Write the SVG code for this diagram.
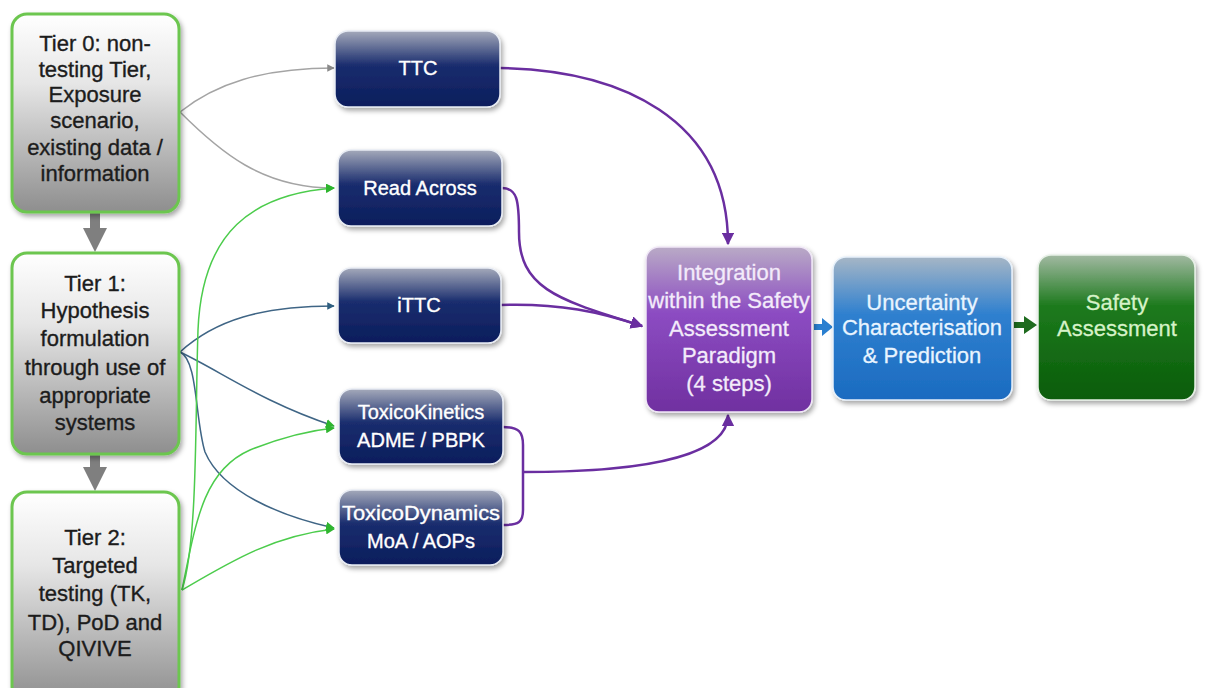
<svg xmlns="http://www.w3.org/2000/svg" width="1206" height="688" viewBox="0 0 1206 688">
  <defs>
    <linearGradient id="gTier" x1="0" y1="0" x2="0" y2="1">
      <stop offset="0" stop-color="#ffffff"/>
      <stop offset="0.35" stop-color="#e6e6e6"/>
      <stop offset="1" stop-color="#8e8e8e"/>
    </linearGradient>
    <linearGradient id="gNavy" x1="0" y1="0" x2="0" y2="1">
      <stop offset="0" stop-color="#a4a9ba"/>
      <stop offset="0.45" stop-color="#1a2d6e"/>
      <stop offset="1" stop-color="#0b1d5c"/>
    </linearGradient>
    <linearGradient id="gPurple" x1="0" y1="0" x2="0" y2="1">
      <stop offset="0" stop-color="#b9aac6"/>
      <stop offset="0.4" stop-color="#8c4cc2"/>
      <stop offset="1" stop-color="#7030a0"/>
    </linearGradient>
    <linearGradient id="gBlue" x1="0" y1="0" x2="0" y2="1">
      <stop offset="0" stop-color="#a6b6c6"/>
      <stop offset="0.4" stop-color="#2f80cf"/>
      <stop offset="1" stop-color="#1b6bc0"/>
    </linearGradient>
    <linearGradient id="gGreen" x1="0" y1="0" x2="0" y2="1">
      <stop offset="0" stop-color="#a2b9a2"/>
      <stop offset="0.35" stop-color="#1d7a1d"/>
      <stop offset="1" stop-color="#0a5c0a"/>
    </linearGradient>
    <filter id="shadow" x="-10%" y="-10%" width="125%" height="125%">
      <feDropShadow dx="2" dy="3" stdDeviation="2.5" flood-color="#000" flood-opacity="0.35"/>
    </filter>
    <marker id="mGray" viewBox="0 0 10 10" refX="9" refY="5" markerWidth="5" markerHeight="5" orient="auto" markerUnits="strokeWidth">
      <path d="M0,0 L10,5 L0,10 z" fill="#8a8a8a"/>
    </marker>
    <marker id="mGreen" viewBox="0 0 10 10" refX="9" refY="5" markerWidth="6" markerHeight="6" orient="auto" markerUnits="strokeWidth">
      <path d="M0,0 L10,5 L0,10 z" fill="#2fb52f"/>
    </marker>
    <marker id="mSteel" viewBox="0 0 10 10" refX="9" refY="5" markerWidth="5" markerHeight="5" orient="auto" markerUnits="strokeWidth">
      <path d="M0,0 L10,5 L0,10 z" fill="#2f5f80"/>
    </marker>
    <marker id="mPurple" viewBox="0 0 10 10" refX="9" refY="5" markerWidth="5" markerHeight="5" orient="auto" markerUnits="strokeWidth">
      <path d="M0,0 L10,5 L0,10 z" fill="#6a2ea0"/>
    </marker>
  </defs>
  <style>
    .tier { fill: url(#gTier); stroke: #6cc64f; stroke-width: 3; filter: url(#shadow); }
    .navy { fill: url(#gNavy); stroke: #e8ecf4; stroke-width: 1.5; filter: url(#shadow); }
    .tierTxt { font-family: "Liberation Sans", Arial, sans-serif; font-size: 22px; fill: #1c1c1c; stroke: #1c1c1c; stroke-width: 0.35; text-anchor: middle; }
    .navyTxt { font-family: "Liberation Sans", Arial, sans-serif; font-size: 20px; fill: #ffffff; stroke: #ffffff; stroke-width: 0.35; text-anchor: middle; }
    .bigTxt { font-family: "Liberation Sans", Arial, sans-serif; font-size: 22px; stroke-width: 0.3; text-anchor: middle; }
    .c-gray { fill: none; stroke: #a4a4a4; stroke-width: 1.5; }
    .c-green { fill: none; stroke: #4ccc4c; stroke-width: 1.5; }
    .c-steel { fill: none; stroke: #3f6585; stroke-width: 1.5; }
    .c-purple { fill: none; stroke: #6a2ea0; stroke-width: 2.5; }
  </style>

  <rect width="1206" height="688" fill="#ffffff"/>

  <!-- connectors -->
  <g id="connectors">
    <!-- Tier 0 outputs -->
    <path class="c-gray" d="M180,112 C215,84 262,68 334,68" marker-end="url(#mGray)"/>
    <path class="c-gray" d="M180,112 C220,152 262,188 334,188" marker-end="url(#mGreen)"/>
    <!-- Tier 1 outputs -->
    <path class="c-steel" d="M180,352 C215,320 262,306 334,306" marker-end="url(#mSteel)"/>
    <path class="c-steel" d="M180,352 C222,372 262,402 334,426" marker-end="url(#mGreen)"/>
    <path class="c-steel" d="M180,352 C198,360 195,420 205,452 C222,492 280,516 334,528" marker-end="url(#mGreen)"/>
    <!-- Tier 2 outputs -->
    <path class="c-green" d="M182,590 C198,540 195,420 198,330 C202,232 252,194 334,188" marker-end="url(#mGreen)"/>
    <path class="c-green" d="M182,590 C196,520 204,470 250,450 C280,438 305,431 334,428" marker-end="url(#mGreen)"/>
    <path class="c-green" d="M182,590 C230,562 272,536 334,529" marker-end="url(#mGreen)"/>
    <!-- into integration -->
    <path class="c-purple" d="M500,68 C620,70 728,118 728,244" marker-end="url(#mPurple)"/>
    <path class="c-purple" d="M502,188 C517,188 519,200 519,232 C519,290 560,300 642,326" marker-end="url(#mPurple)"/>
    <path class="c-purple" d="M500,305 C560,303 600,312 642,326" marker-end="url(#mPurple)"/>
    <path class="c-purple" d="M503,427 C519,427 523,432 523,445 L523,510 C523,522 519,525 503,525"/>
    <path class="c-purple" d="M523,472 C620,472 728,462 728,415" marker-end="url(#mPurple)"/>
    <!-- tier flow arrows -->
    <path d="M90,212 H100 V228 H107 L95,252 L83,228 H90 Z" fill="#7f7f7f"/>
    <path d="M90,455 H100 V467 H107 L95,491 L83,467 H90 Z" fill="#7f7f7f"/>
    <!-- chain arrows -->
    <path d="M814,324 H822 V318 L833,327 L822,336 V330 H814 Z" fill="#2a7fd0"/>
    <path d="M1014,322 H1024 V316 L1037,325 L1024,334 V328 H1014 Z" fill="#1e6b1e"/>
  </g>

  <!-- tiers -->
  <g id="tier0">
    <rect class="tier" x="12" y="14" width="167" height="198" rx="15"/>
    <text class="tierTxt" x="95" y="51">Tier 0: non-</text>
    <text class="tierTxt" x="95" y="77">testing Tier,</text>
    <text class="tierTxt" x="95" y="102">Exposure</text>
    <text class="tierTxt" x="95" y="128">scenario,</text>
    <text class="tierTxt" x="95" y="155">existing data /</text>
    <text class="tierTxt" x="95" y="181">information</text>
  </g>
  <g id="tier1">
    <rect class="tier" x="12" y="253" width="167" height="201" rx="15"/>
    <text class="tierTxt" x="95" y="291">Tier 1:</text>
    <text class="tierTxt" x="95" y="318">Hypothesis</text>
    <text class="tierTxt" x="95" y="346">formulation</text>
    <text class="tierTxt" x="95" y="375">through use of</text>
    <text class="tierTxt" x="95" y="403">appropriate</text>
    <text class="tierTxt" x="95" y="430">systems</text>
  </g>
  <g id="tier2">
    <rect class="tier" x="12" y="492" width="167" height="210" rx="15"/>
    <text class="tierTxt" x="95" y="545">Tier 2:</text>
    <text class="tierTxt" x="95" y="573">Targeted</text>
    <text class="tierTxt" x="95" y="601">testing (TK,</text>
    <text class="tierTxt" x="95" y="630">TD), PoD and</text>
    <text class="tierTxt" x="95" y="656">QIVIVE</text>
  </g>

  <!-- approaches -->
  <g id="ttc">
    <rect class="navy" x="335" y="31" width="165" height="76" rx="13"/>
    <text class="navyTxt" x="418" y="75">TTC</text>
  </g>
  <g id="read-across">
    <rect class="navy" x="338" y="150" width="164" height="76" rx="13"/>
    <text class="navyTxt" x="420" y="195">Read Across</text>
  </g>
  <g id="ittc">
    <rect class="navy" x="338" y="268" width="163" height="75" rx="13"/>
    <text class="navyTxt" x="419" y="312">iTTC</text>
  </g>
  <g id="toxicokinetics">
    <rect class="navy" x="339" y="389" width="164" height="75" rx="13"/>
    <text class="navyTxt" x="421" y="419">ToxicoKinetics</text>
    <text class="navyTxt" x="421" y="447">ADME / PBPK</text>
  </g>
  <g id="toxicodynamics">
    <rect class="navy" x="339" y="490" width="164" height="75" rx="13"/>
    <text class="navyTxt" x="421" y="520" textLength="158" lengthAdjust="spacingAndGlyphs">ToxicoDynamics</text>
    <text class="navyTxt" x="421" y="548">MoA / AOPs</text>
  </g>

  <!-- assessment chain -->
  <g id="integration">
    <rect x="646" y="247" width="166" height="165" rx="13" fill="url(#gPurple)" stroke="#efe6f6" stroke-width="1.5" filter="url(#shadow)"/>
    <g fill="#f3ebfa" stroke="#f3ebfa">
      <text class="bigTxt" x="729" y="280">Integration</text>
      <text class="bigTxt" x="729" y="308">within the Safety</text>
      <text class="bigTxt" x="729" y="336">Assessment</text>
      <text class="bigTxt" x="729" y="363">Paradigm</text>
      <text class="bigTxt" x="729" y="391">(4 steps)</text>
    </g>
  </g>
  <g id="uncertainty">
    <rect x="833" y="257" width="179" height="143" rx="13" fill="url(#gBlue)" stroke="#e6f0fa" stroke-width="1.5" filter="url(#shadow)"/>
    <g fill="#e8f4ff" stroke="#e8f4ff">
      <text class="bigTxt" x="922" y="310">Uncertainty</text>
      <text class="bigTxt" x="922" y="335">Characterisation</text>
      <text class="bigTxt" x="922" y="363">&amp; Prediction</text>
    </g>
  </g>
  <g id="safety">
    <rect x="1038" y="255" width="157" height="145" rx="13" fill="url(#gGreen)" stroke="#e6f0e6" stroke-width="1.5" filter="url(#shadow)"/>
    <g fill="#d6f2c8" stroke="#d6f2c8">
      <text class="bigTxt" x="1117" y="310">Safety</text>
      <text class="bigTxt" x="1117" y="336">Assessment</text>
    </g>
  </g>
</svg>
